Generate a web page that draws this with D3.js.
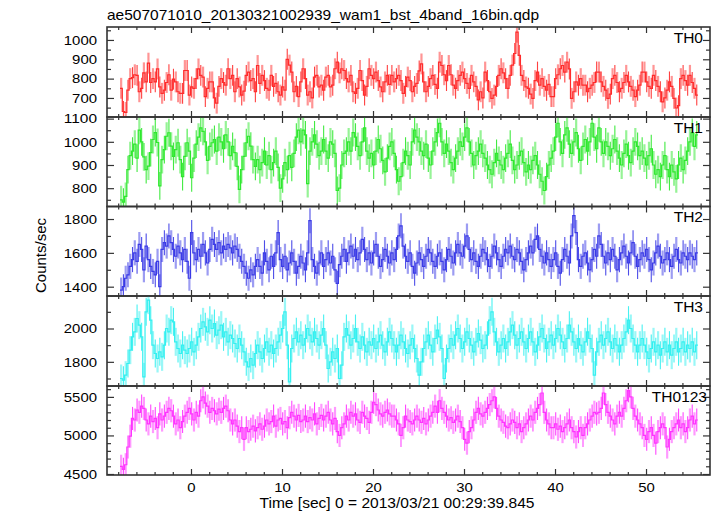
<!DOCTYPE html>
<html><head><meta charset="utf-8">
<script src="https://cdn.jsdelivr.net/npm/d3@7"></script>
<style>
body{margin:0;background:#fff}
text{font-family:"Liberation Sans",Arial,Helvetica,sans-serif;fill:#000}
</style>
</head><body>
<svg id="chart" width="717" height="516"></svg>
<script>
const titleText = "ae507071010_20130321002939_wam1_bst_4band_16bin.qdp";
const xLabelText = "Time [sec] 0 = 2013/03/21 00:29:39.845";
const yLabelText = "Counts/sec";
const panelNames = ["TH0", "TH1", "TH2", "TH3", "TH0123"];
const binStart = -7.8;
const binWidth = 0.25;

const th0 = [
750,630,625,740,800,805,820,817,732,750,
830,783,880,780,800,783,850,757,724,740,
780,820,740,797,783,732,724,724,842,842,
715,757,750,800,850,817,808,707,750,783,
783,700,673,760,800,780,766,851,800,817,
732,800,757,715,735,817,834,790,800,732,
868,775,817,790,750,740,817,760,775,732,
715,757,740,900,870,834,732,760,707,783,
851,800,715,732,700,808,817,757,766,740,
808,817,757,766,851,885,830,851,842,800,
783,817,732,724,750,842,790,715,760,851,
817,800,834,790,757,732,783,817,770,817,
783,800,817,790,724,760,808,790,732,760,
775,840,876,783,732,760,800,817,770,750,
885,868,820,790,868,820,766,750,790,817,
834,800,775,750,817,783,760,690,732,700,
834,790,732,698,715,760,817,851,830,800,
750,817,870,930,1040,920,817,790,757,750,
720,698,790,834,766,800,760,740,770,707,
707,800,820,851,868,834,885,850,698,732,
783,766,800,766,766,732,750,766,780,834,
834,783,760,740,698,720,800,817,780,732,
750,780,817,783,760,740,707,740,766,834,
834,783,760,750,817,790,760,732,680,700,
740,783,760,698,648,660,800,817,790,766,
817,780,750,715];

const th1 = [
750,740,765,880,940,960,990,930,1050,1000,
935,880,895,953,1010,1040,997,810,923,966,
1024,1039,981,937,966,996,923,850,937,996,
960,845,930,990,1020,1060,1045,1000,920,980,
996,1010,960,1020,1000,970,1030,1000,940,980,
953,894,795,880,937,996,1024,981,923,894,
923,880,910,960,900,940,880,910,960,890,
800,840,910,880,940,890,950,1020,1050,1000,
1050,1030,820,960,1000,1030,990,940,960,1010,
960,930,1000,990,950,790,800,900,950,960,
1000,960,1040,1020,980,940,1000,1060,960,930,
950,900,960,1010,970,920,870,930,980,1000,
950,880,830,850,910,960,940,900,1000,1050,
1020,1000,960,940,990,930,900,960,1000,1040,
1080,1000,950,990,960,910,880,930,960,1000,
980,1020,1060,1000,950,900,940,960,990,950,
930,900,880,860,910,950,920,900,880,930,
950,990,920,880,900,940,960,910,870,900,
880,920,940,900,860,830,790,850,900,930,
960,1020,1080,1000,950,1030,1060,990,950,1000,
1040,970,920,980,1010,960,1000,1080,1020,970,
1060,1000,950,1000,980,940,970,1010,960,930,
900,950,990,940,910,960,1000,980,940,960,
930,900,940,970,900,860,880,850,900,940,
880,850,900,870,840,900,930,880,920,960,
1000,1040,980,1030];

const th2 = [
1380,1400,1450,1470,1520,1560,1600,1550,1650,1620,
1500,1640,1560,1520,1490,1470,1550,1400,1620,1660,
1640,1700,1660,1620,1580,1640,1600,1560,1620,1550,
1450,1720,1600,1560,1620,1580,1650,1600,1540,1620,
1680,1650,1620,1660,1600,1640,1620,1650,1630,1600,
1640,1620,1580,1550,1520,1480,1450,1500,1470,1520,
1560,1520,1480,1600,1550,1500,1580,1520,1600,1720,
1560,1520,1580,1500,1540,1600,1550,1480,1520,1580,
1540,1500,1600,1790,1560,1520,1480,1540,1600,1520,
1560,1600,1540,1580,1500,1420,1530,1580,1620,1550,
1600,1640,1580,1620,1560,1600,1680,1620,1560,1600,
1540,1600,1650,1580,1520,1560,1620,1580,1540,1600,
1560,1620,1700,1760,1640,1580,1550,1600,1520,1480,
1540,1600,1560,1520,1580,1620,1600,1550,1520,1580,
1600,1550,1500,1560,1620,1580,1540,1600,1650,1600,
1580,1640,1700,1620,1560,1600,1550,1520,1580,1620,
1600,1560,1520,1580,1640,1600,1560,1520,1580,1620,
1600,1640,1580,1560,1620,1600,1550,1500,1560,1600,
1640,1600,1680,1700,1620,1580,1540,1600,1560,1520,
1560,1600,1520,1480,1560,1620,1580,1540,1700,1820,
1720,1560,1520,1580,1600,1540,1500,1560,1620,1580,
1700,1650,1580,1540,1600,1560,1620,1580,1500,1560,
1600,1640,1580,1540,1600,1660,1580,1520,1560,1600,
1580,1620,1560,1500,1540,1600,1640,1580,1540,1560,
1600,1560,1520,1580,1620,1560,1540,1600,1580,1560,
1600,1580,1560,1600];

const th3 = [
1700,1690,1720,1790,1870,1950,1980,2060,2020,1950,
1710,2100,2170,2050,1900,1850,1820,1860,1830,1900,
2000,1980,2050,2040,1920,1880,1850,1900,1870,1850,
1880,1920,1860,1900,1950,2000,2040,2010,1980,2050,
2000,2030,1960,1990,2020,1950,1980,1920,1960,1940,
1910,1880,1940,1900,1860,1800,1770,1820,1780,1850,
1900,1860,1820,1880,1920,1860,1900,1850,1880,1920,
1960,2000,2100,1900,1680,1880,1940,1980,1920,1960,
1900,1940,2000,1960,1920,1980,1940,1900,1960,2000,
1900,1760,1800,1860,1820,1880,1700,1780,1950,2000,
1960,1900,1940,2000,1920,1880,1950,1900,1860,1920,
1900,1940,1880,1920,1960,1900,1860,1920,1980,1940,
1900,1860,1900,1960,1920,1880,1850,1900,1940,1880,
1820,1720,1800,1880,1920,1960,1900,1860,1940,1990,
1950,1880,1700,1820,1880,1940,1900,1960,2000,1940,
1880,1920,1980,1940,1900,1860,1920,1970,1930,1880,
1900,1960,2050,2100,1980,1920,1860,1900,1940,1880,
1920,1980,2020,1960,1900,1940,1980,1920,1880,1940,
1980,1920,1860,1900,1950,2000,1940,1880,1920,1960,
1900,1940,2000,1960,1920,1880,1940,2020,1980,1920,
1880,1940,1900,1860,1920,1980,1940,1880,1720,1860,
1920,1960,1900,1940,1980,1920,1880,1940,1900,1860,
1900,1940,1980,2050,2000,1940,1900,1860,1900,1940,
1900,1860,1820,1880,1920,1860,1900,1840,1880,1920,
1860,1900,1840,1880,1920,1860,1880,1920,1860,1900,
1880,1920,1860,1900];

const th0123 = [
4600,4560,4620,4850,4990,5220,5200,5330,5300,5380,
5350,5200,5150,5250,5180,5220,5100,5280,5200,5250,
5300,5350,5320,5250,5150,5200,5100,5180,5250,5300,
5350,5280,5200,5300,5250,5450,5500,5420,5380,5300,
5350,5320,5280,5340,5300,5350,5380,5320,5200,5150,
5200,5120,5050,5100,4950,5100,5050,5080,5120,5060,
5100,5150,5080,5120,5200,5150,5180,5250,5120,5200,
5220,5150,5180,5100,5230,5300,5250,5200,5260,5180,
5200,5250,5180,5230,5200,5280,5150,5220,5260,5200,
5250,5300,5200,5150,5220,5050,5000,5100,5150,5250,
5200,5300,5250,5280,5200,5170,5300,5250,5220,5170,
5300,5430,5400,5330,5280,5250,5300,5330,5280,5250,
5250,5200,5150,5000,5100,5250,5200,5180,5150,5200,
5250,5200,5170,5220,5150,5200,5250,5300,5380,5300,
5450,5350,5300,5250,5200,5230,5170,5200,5250,5180,
5100,4950,4900,5050,5100,5200,5300,5350,5280,5250,
5300,5350,5400,5450,5500,5350,5250,5200,5170,5120,
5100,5150,5200,5170,5100,5150,5050,5100,5150,5200,
5250,5200,5300,5350,5400,5550,5300,5200,5150,5100,
5100,5150,5080,5120,5050,5100,5150,5200,5100,5050,
4980,5050,5100,5000,5100,5150,5200,5250,5300,5280,
5300,5350,5550,5400,5300,5250,5200,5150,5250,5300,
5250,5350,5450,5580,5500,5350,5250,5200,5150,5100,
5000,4950,5050,5100,5000,4900,5050,5100,5150,5100,
4850,4950,5050,5100,5150,5200,5100,5150,5050,5100,
5200,5250,5150,5200];

const seriesErrors = [54, 60, 74, 84, 150];
const yDomains = [[601.5, 1067], [721, 1107], [1345, 1874], [1655, 2195], [4487, 5641]];
const yMajorTicks = [[700, 800, 900, 1000], [800, 900, 1000, 1100], [1400, 1600, 1800], [1800, 2000], [4500, 5000, 5500]];
const yMinorSteps = [50, 50, 100, 100, 100];
const xMajorTicks = [0, 10, 20, 30, 40, 50];
const xMinorStep = 2;
const colors = ["#ff2b2b", "#2ee82e", "#3a3ae6", "#33f0f0", "#ff33ff"];

const allSeries = [th0, th1, th2, th3, th0123];

// layout
const left = 107, right = 710;
const edges = [27, 117, 206.5, 296, 386, 475];
const digitW = 8.3;

const svg = d3.select("#chart");
const x = d3.scaleLinear().domain([-9.23, 57.03]).range([left, right]);

const xMinorVals = d3.range(-8, 57, xMinorStep).filter(v => !xMajorTicks.includes(v));

svg.append("text").attr("x", left).attr("y", 20)
  .attr("font-size", 14.5).attr("textLength", 432).attr("lengthAdjust", "spacingAndGlyphs")
  .text(titleText);

allSeries.forEach((vals, p) => {
  const top = edges[p], bot = edges[p + 1];
  const y = d3.scaleLinear().domain(yDomains[p]).range([bot, top]);
  const g = svg.append("g");
  const clipId = "clip" + p;
  svg.append("clipPath").attr("id", clipId).append("rect")
    .attr("x", left).attr("y", top).attr("width", right - left).attr("height", bot - top);
  const dg = g.append("g").attr("clip-path", `url(#${clipId})`);
  const err = seriesErrors[p];
  const col = colors[p];

  dg.selectAll("line.err").data(vals).join("line")
    .attr("class", "err")
    .attr("x1", (d, i) => x(binStart + (i + 0.5) * binWidth))
    .attr("x2", (d, i) => x(binStart + (i + 0.5) * binWidth))
    .attr("y1", d => y(d - err))
    .attr("y2", d => y(d + err))
    .attr("stroke", col)
    .attr("stroke-opacity", (d, i) => i % 2 === 0 ? 0.5 : 0.9)
    .attr("stroke-width", (d, i) => i % 2 === 0 ? 2.2 : 1.1);

  const pts = vals.map((v, i) => [binStart + i * binWidth, v]);
  pts.push([binStart + vals.length * binWidth, vals[vals.length - 1]]);
  const line = d3.line().x(d => x(d[0])).y(d => y(d[1])).curve(d3.curveStepAfter);
  dg.append("path").attr("d", line(pts)).attr("fill", "none")
    .attr("stroke", col).attr("stroke-width", 1.2);

  const tickCol = "#333";
  const styleAxis = sel => {
    sel.select(".domain").remove();
    sel.selectAll(".tick line").attr("stroke", tickCol).attr("stroke-width", 1.2);
    sel.selectAll("text")
      .attr("font-family", "Liberation Sans, Arial, sans-serif")
      .attr("font-size", 13.5).attr("fill", "#000")
      .attr("lengthAdjust", "spacingAndGlyphs")
      .attr("textLength", function () { return this.textContent.length * digitW; });
  };
  const isLast = p === allSeries.length - 1;
  g.append("g").attr("transform", `translate(0,${bot})`)
    .call(d3.axisBottom(x).tickValues(xMajorTicks).tickSize(-6).tickPadding(7)
      .tickFormat(isLast ? d3.format("d") : () => ""))
    .call(styleAxis);
  g.append("g").attr("transform", `translate(0,${bot})`)
    .call(d3.axisBottom(x).tickValues(xMinorVals).tickSize(-3).tickFormat(() => ""))
    .call(styleAxis);
  g.append("g").attr("transform", `translate(0,${top})`)
    .call(d3.axisTop(x).tickValues(xMajorTicks).tickSize(-6).tickFormat(() => ""))
    .call(styleAxis);
  g.append("g").attr("transform", `translate(0,${top})`)
    .call(d3.axisTop(x).tickValues(xMinorVals).tickSize(-3).tickFormat(() => ""))
    .call(styleAxis);
  const [d0, d1] = yDomains[p];
  const step = yMinorSteps[p];
  const yMinorVals = d3.range(Math.ceil(d0 / step) * step, d1, step).filter(v => !yMajorTicks[p].includes(v));
  g.append("g").attr("transform", `translate(${left},0)`)
    .call(d3.axisLeft(y).tickValues(yMajorTicks[p]).tickSize(-7).tickPadding(10).tickFormat(d3.format("d")))
    .call(styleAxis);
  g.append("g").attr("transform", `translate(${left},0)`)
    .call(d3.axisLeft(y).tickValues(yMinorVals).tickSize(-4).tickFormat(() => ""))
    .call(styleAxis);
  g.append("g").attr("transform", `translate(${right},0)`)
    .call(d3.axisRight(y).tickValues(yMajorTicks[p]).tickSize(-7).tickFormat(() => ""))
    .call(styleAxis);
  g.append("g").attr("transform", `translate(${right},0)`)
    .call(d3.axisRight(y).tickValues(yMinorVals).tickSize(-4).tickFormat(() => ""))
    .call(styleAxis);

  g.append("rect").attr("x", left).attr("y", top).attr("width", right - left).attr("height", bot - top)
    .attr("fill", "none").attr("stroke", "#333").attr("stroke-width", 1.6);

  g.append("text").attr("x", isLast ? 707 : 703).attr("y", top + 15.5)
    .attr("text-anchor", "end").attr("font-size", 15.5).text(panelNames[p]);
});

svg.append("text").attr("x", 397).attr("y", 508).attr("text-anchor", "middle")
  .attr("font-size", 14).attr("textLength", 275).attr("lengthAdjust", "spacingAndGlyphs")
  .text(xLabelText);

svg.append("text").attr("transform", "translate(46,255.5) rotate(-90)")
  .attr("text-anchor", "middle").attr("font-size", 15).text(yLabelText);
</script>
</body></html>
